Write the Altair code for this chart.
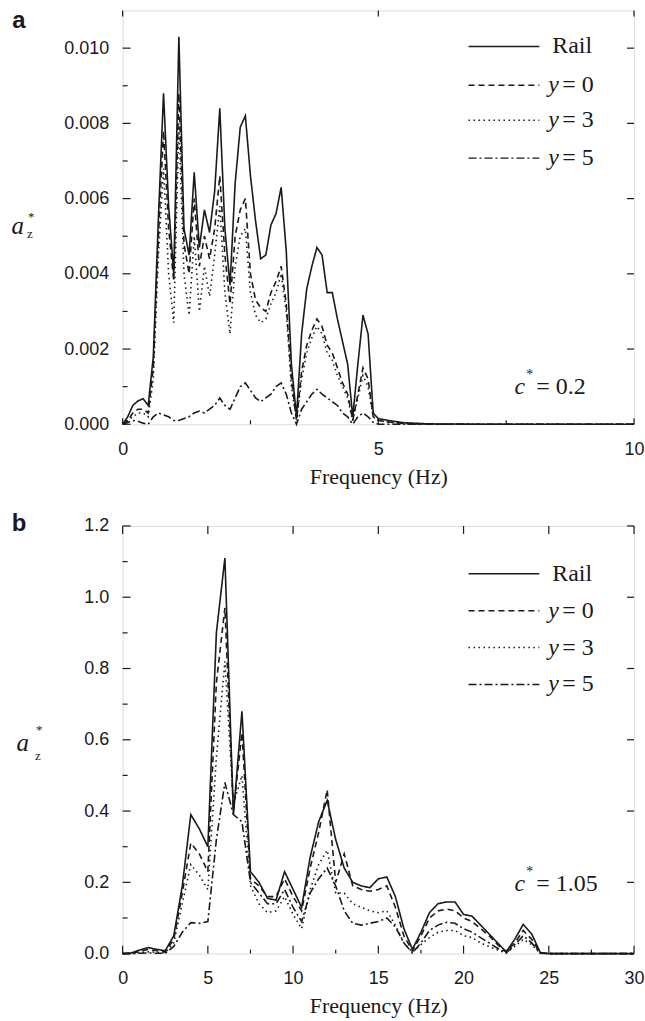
import altair as alt
import pandas as pd

INK = "#1a1a1a"
SERIF = "Liberation Serif"
SANS = "Liberation Sans"

series = ["Rail", "y = 0", "y = 3", "y = 5"]
dash_patterns = [[1, 0], [6, 4], [1.5, 3.5], [8, 3, 2, 3]]

# ---------------- panel a (c* = 0.2) ----------------
freq_a = [0, 0.1, 0.2, 0.3, 0.4, 0.5, 0.6, 0.7, 0.8, 0.9,
          1.0, 1.1, 1.2, 1.3, 1.4, 1.5, 1.6, 1.7, 1.8, 1.9,
          2.0, 2.1, 2.2, 2.3, 2.4, 2.5, 2.6, 2.7, 2.8, 2.9,
          3.0, 3.1, 3.2, 3.3, 3.4, 3.5, 3.6, 3.7, 3.8, 3.9,
          4.0, 4.1, 4.2, 4.3, 4.4, 4.5, 4.6, 4.7, 4.8, 4.9,
          5.0, 5.2, 5.5, 6, 7, 8, 9, 10]
rail_a = [0.0, 0.0002, 0.0005, 0.00062, 0.00068, 0.0005, 0.0018, 0.0055, 0.0088, 0.0058,
          0.0040, 0.0103, 0.0052, 0.0045, 0.0067, 0.0047, 0.0057, 0.0051, 0.0062, 0.0084,
          0.0052, 0.0037, 0.0064, 0.0079, 0.0082, 0.0066, 0.0054, 0.0044, 0.0045, 0.0053,
          0.0056, 0.0063, 0.0046, 0.0016, 0.0002, 0.0024, 0.0036, 0.0042, 0.0047, 0.0045,
          0.0035, 0.0035, 0.0028, 0.0022, 0.0016, 0.0002, 0.0016, 0.0029, 0.0024, 0.0003,
          0.00015, 0.0001, 0.00004, 0.00001, 0, 0, 0, 0]
y0_a = [0.0, 0.0001, 0.0003, 0.0004, 0.0004, 0.0003, 0.0015, 0.0050, 0.0078, 0.0052,
        0.0038, 0.0088, 0.0048, 0.0040, 0.0060, 0.0042, 0.0050, 0.0044, 0.0052, 0.0066,
        0.0045, 0.0032, 0.0050, 0.0057, 0.0060, 0.0040, 0.0033, 0.0031, 0.0030, 0.0035,
        0.0038, 0.0042, 0.0032, 0.0012, 0.0001, 0.0014, 0.0021, 0.0025, 0.0028, 0.0026,
        0.0021, 0.0019, 0.0015, 0.0011, 0.0008, 0.0001, 0.0008, 0.0015, 0.0012, 0.0002,
        0.0001, 0.00006, 0.00002, 0, 0, 0, 0, 0]
y3_a = [0.0, 0.0001, 0.0002, 0.0003, 0.0003, 0.0002, 0.0012, 0.0045, 0.0068, 0.0040,
        0.0027, 0.0080, 0.0040, 0.0029, 0.0050, 0.0030, 0.0042, 0.0034, 0.0045, 0.0058,
        0.0035, 0.0024, 0.0042, 0.0050, 0.0052, 0.0035, 0.0029, 0.0027, 0.0028, 0.0032,
        0.0035, 0.0040, 0.0030, 0.0010, 0.0001, 0.0012, 0.0019, 0.0023, 0.0026, 0.0024,
        0.0019, 0.0017, 0.0013, 0.0010, 0.0007, 0.0001, 0.0007, 0.0013, 0.0010, 0.0002,
        0.0001, 0.00005, 0.00002, 0, 0, 0, 0, 0]
y5_a = [0.0, 0.00005, 0.0001, 0.00008, 0.00003, 0.0, 0.0002, 0.0003, 0.00025, 0.0002,
        0.0001, 0.0001, 0.00015, 0.0002, 0.0003, 0.00035, 0.0003, 0.0004, 0.0005, 0.0007,
        0.0005, 0.0004, 0.0007, 0.0010, 0.0011, 0.0009, 0.0007, 0.0006, 0.0007, 0.0008,
        0.0010, 0.0011, 0.0008, 0.0003, 0.0, 0.0004, 0.0006, 0.0008, 0.00093, 0.0008,
        0.0007, 0.0006, 0.0005, 0.0003, 0.0002, 0.0, 0.0002, 0.0003, 0.0002, 0.00005,
        0.0, 0, 0, 0, 0, 0, 0, 0]

# ---------------- panel b (c* = 1.05) ----------------
freq_b = [0, 0.5, 1, 1.5, 2, 2.5, 3, 3.5, 4, 4.5, 5, 5.5, 6, 6.5, 7, 7.5, 8, 8.5, 9, 9.5,
          10, 10.5, 11, 11.5, 12, 12.5, 13, 13.5, 14, 14.5, 15, 15.5, 16, 16.5, 17, 17.5,
          18, 18.5, 19, 19.5, 20, 20.5, 21, 21.5, 22, 22.5, 23, 23.5, 24, 24.5, 25,
          26, 27, 28, 29, 30]
rail_b = [0.0, 0.002, 0.010, 0.017, 0.012, 0.008, 0.05, 0.19, 0.39, 0.35, 0.30, 0.90, 1.11, 0.39,
          0.68, 0.23, 0.20, 0.155, 0.15, 0.23, 0.18, 0.13, 0.27, 0.37, 0.43, 0.32, 0.24, 0.20,
          0.19, 0.185, 0.21, 0.215, 0.16, 0.07, 0.012, 0.06, 0.115, 0.14, 0.145, 0.145, 0.11,
          0.105, 0.08, 0.055, 0.03, 0.005, 0.04, 0.082, 0.055, 0.003, 0.0, 0, 0, 0, 0, 0]
y0_b = [0.0, 0.001, 0.006, 0.012, 0.008, 0.005, 0.04, 0.17, 0.31, 0.28, 0.23, 0.76, 0.97, 0.40,
        0.62, 0.21, 0.19, 0.16, 0.16, 0.21, 0.16, 0.12, 0.24, 0.34, 0.46, 0.20, 0.28, 0.19,
        0.18, 0.175, 0.18, 0.19, 0.13, 0.05, 0.008, 0.05, 0.10, 0.12, 0.125, 0.12, 0.10,
        0.09, 0.07, 0.05, 0.025, 0.004, 0.03, 0.065, 0.04, 0.002, 0.0, 0, 0, 0, 0, 0]
y3_b = [0.0, 0.0, 0.003, 0.005, 0.004, 0.003, 0.03, 0.14, 0.25, 0.22, 0.18, 0.55, 0.82, 0.42,
        0.50, 0.19, 0.14, 0.115, 0.12, 0.16, 0.11, 0.07, 0.18, 0.25, 0.29, 0.17, 0.17, 0.14,
        0.13, 0.12, 0.115, 0.12, 0.08, 0.03, 0.004, 0.025, 0.045, 0.06, 0.065, 0.065, 0.05,
        0.045, 0.03, 0.02, 0.01, 0.002, 0.02, 0.04, 0.025, 0.001, 0.0, 0, 0, 0, 0, 0]
y5_b = [0.0, 0.0, 0.001, 0.002, 0.001, 0.001, 0.02, 0.06, 0.087, 0.085, 0.09, 0.32, 0.48, 0.39,
        0.37, 0.20, 0.17, 0.14, 0.14, 0.18, 0.13, 0.09, 0.17, 0.21, 0.24, 0.19, 0.12, 0.085,
        0.08, 0.085, 0.09, 0.10, 0.075, 0.03, 0.002, 0.03, 0.065, 0.08, 0.088, 0.085, 0.07,
        0.06, 0.045, 0.03, 0.015, 0.002, 0.025, 0.05, 0.03, 0.001, 0.0, 0, 0, 0, 0, 0]

# tick values
xa_major = [0, 5, 10]
xa_minor = [2.5, 7.5]
ya_major = [0, 0.002, 0.004, 0.006, 0.008, 0.010]
ya_minor = [0.001, 0.003, 0.005, 0.007, 0.009]
xb_major = [0, 5, 10, 15, 20, 25, 30]
xb_minor = [2.5, 7.5, 12.5, 17.5, 22.5, 27.5]
yb_major = [0, 0.2, 0.4, 0.6, 0.8, 1.0, 1.2]
yb_minor = [0.1, 0.3, 0.5, 0.7, 0.9, 1.1]

W = 513


def tidy(freq, cols):
    rows = []
    for name, vals in zip(series, cols):
        for f, v in zip(freq, vals):
            rows.append({"f": f, "v": v, "s": name})
    return pd.DataFrame(rows)


def txt(s, x, y, size=24, style="normal", weight="normal", font=SERIF, align="left"):
    return alt.Chart(pd.DataFrame({"t": [s]})).mark_text(
        font=font, fontSize=size, fontStyle=style, fontWeight=weight,
        align=align, baseline="middle", color=INK
    ).encode(x=alt.value(x), y=alt.value(y), text=alt.value(s))


def hrule(x0, x1, y, dash):
    return alt.Chart(pd.DataFrame({"t": [0]})).mark_rule(color=INK, strokeWidth=1.4).encode(
        x=alt.value(x0), x2=alt.value(x1), y=alt.value(y), strokeDash=alt.value(dash))


def panel(freq, cols, xdom, ydom, H, xmaj, xmin, ymaj, ymin, yfmt, letter, leg_y, cval, c_y,
          bot_major_len, bot_minor_len, top_len):
    xs = alt.Scale(domain=xdom, nice=False, zero=False)
    ys = alt.Scale(domain=ydom, nice=False, zero=False)
    xaxis = alt.Axis(values=xmaj, ticks=False, domain=False, grid=False,
                     labelFont=SANS, labelFontSize=18, labelColor=INK, labelPadding=16,
                     labelFlush=False, labelOverlap=False,
                     title="Frequency (Hz)", titleFont=SERIF, titleFontSize=22,
                     titleFontWeight="normal", titleColor=INK, titlePadding=8,
                     minExtent=34, maxExtent=34)
    yaxis = alt.Axis(values=ymaj, format=yfmt, ticks=False, domain=False, grid=False,
                     labelFont=SANS, labelFontSize=18, labelColor=INK, labelPadding=14,
                     labelOverlap=False, title=None, minExtent=122, maxExtent=122)

    lines = alt.Chart(tidy(freq, cols)).mark_line(strokeWidth=1.6, color=INK).encode(
        x=alt.X("f:Q", scale=xs, axis=xaxis),
        y=alt.Y("v:Q", scale=ys, axis=yaxis),
        strokeDash=alt.StrokeDash("s:N", scale=alt.Scale(domain=series, range=dash_patterns),
                                  legend=None),
        order=alt.Order("f:Q"),
    )

    def yticks(vals, x0, x1):
        return alt.Chart(pd.DataFrame({"v": vals})).mark_rule(color=INK, strokeWidth=1.2).encode(
            y=alt.Y("v:Q", scale=ys, axis=yaxis), x=alt.value(x0), x2=alt.value(x1))

    def xticks(vals, y0, y1):
        return alt.Chart(pd.DataFrame({"f": vals})).mark_rule(color=INK, strokeWidth=1.2).encode(
            x=alt.X("f:Q", scale=xs, axis=xaxis), y=alt.value(y0), y2=alt.value(y1))

    layers = [
        lines,
        yticks(ymaj, 0, 8), yticks(ymin, 0, 5),
        yticks(ymaj, W - 7, W),
        xticks(xmaj, H, H - bot_major_len), xticks(xmin, H, H - bot_minor_len),
        xticks(xmaj, 0, top_len),
    ]
    # legend
    lx0, lx1 = 347, 418
    for (name, dash, yy) in zip(series, dash_patterns, leg_y):
        layers.append(hrule(lx0, lx1, yy, dash))
        if name == "Rail":
            layers.append(txt("Rail", 431, yy))
        else:
            layers.append(txt("y", 427, yy, style="italic"))
            layers.append(txt(name[1:].strip(), 441, yy))
    # c* annotation
    layers.append(txt("c", 393, c_y, style="italic"))
    layers.append(txt("*", 405, c_y - 12, size=14))
    layers.append(txt("= " + cval, 415, c_y))
    # panel letter
    layers.append(txt(letter[0], letter[1], letter[2], size=24, weight="bold", font=SANS,
                      align="center"))
    return alt.layer(*layers).properties(width=W, height=H)


pa = panel(freq_a, [rail_a, y0_a, y3_a, y5_a], [0, 10], [0, 0.011], 415,
           xa_major, xa_minor, ya_major, ya_minor, ".3f", ("a", -104, 11),
           [36, 75, 110, 148], "0.2", 378, 6, 4, 6)
pa = alt.layer(
    pa,
    txt("a", -99, 216, size=25, style="italic", align="right"),
    txt("*", -95, 207, size=13),
    txt("z", -96, 224, size=13),
)

pb = panel(freq_b, [rail_b, y0_b, y3_b, y5_b], [0, 30], [0, 1.2], 429,
           xb_major, xb_minor, yb_major, yb_minor, ".1f", ("b", -104, -2),
           [48, 85, 122, 159], "1.05", 359, 8, 4, 8)
pb = alt.layer(
    pb,
    txt("a", -94, 218, size=25, style="italic", align="right"),
    txt("*", -87, 205, size=13),
    txt("z", -88, 231, size=13),
)

chart = alt.vconcat(pa, pb, spacing=23).properties(
    padding={"left": 0, "top": 7, "right": 0, "bottom": 0}
).configure_view(stroke=INK, strokeWidth=1.5).configure(background="white").configure_axis(
    titleFont=SERIF, titleFontSize=22, titleFontWeight="normal", titleColor=INK,
    labelFont=SANS, labelFontSize=18, labelColor=INK
)

chart.save("out.html", embed_options={"renderer": "svg", "actions": False})
